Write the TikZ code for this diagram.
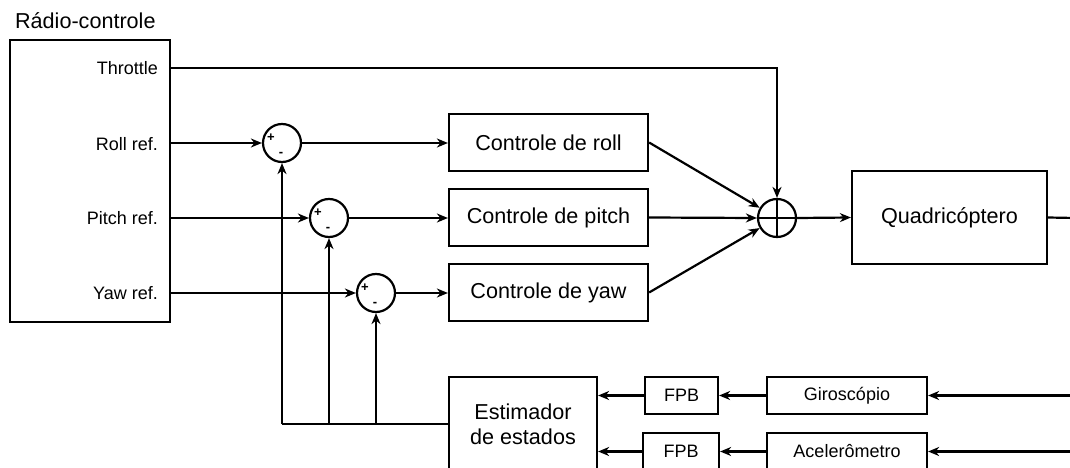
\documentclass[tikz,border=0pt]{standalone}
\usepackage{fontspec}
\setmainfont{Liberation Sans}
\usetikzlibrary{arrows.meta,calc}
\begin{document}
\begin{tikzpicture}[x=1pt,y=-1pt,line width=2.2pt,
  big/.style={font=\fontsize{21.6}{25}\selectfont},
  small/.style={font=\fontsize{18}{21}\selectfont},
  blk/.style={draw,line width=2.2pt,inner sep=0pt,align=center,big},
  sblk/.style={draw,line width=2.2pt,inner sep=0pt,align=center,small},
  sumc/.style={circle,draw,line width=2.2pt,minimum size=38pt,inner sep=0pt},
  pm/.style={font=\fontsize{13}{13}\bfseries\selectfont,inner sep=0pt},
  lbl/.style={small,inner sep=0pt,anchor=base east},
  arr/.style={-{Stealth[length=11pt,width=9pt,inset=3.5pt]}}]
\useasboundingbox (0,0) rectangle (1070,468);
\clip (0,0) rectangle (1070,468);

% Radio
\node[blk,minimum width=160pt,minimum height=282pt] (radio) at (90,181) {};
\node[big,inner sep=0pt,anchor=base west] (rtitle) at (14,29) {Rádio-controle};
\node[lbl] (lthr) at (159,75) {Throttle};
\node[lbl] (lroll) at (159,150) {Roll ref.};
\node[lbl] (lpitch) at (159,224.5) {Pitch ref.};
\node[lbl] (lyaw) at (159,299.5) {Yaw ref.};

% summing junctions
\node[sumc] (s1) at (282,143) {};
\node[sumc] (s2) at (329,218) {};
\node[sumc] (s3) at (376,293) {};
\foreach \s in {s1,s2,s3}{
  \node[pm] (\s p) at ($(\s)+(-11,-5)$) {+};
  \node[pm] (\s m) at ($(\s)+(-1,11)$) {-};
}
\node[sumc] (bs) at (777,218) {};
\draw (bs.north) -- (bs.south);
\draw (bs.west) -- (bs.east);

% controllers
\node[blk,minimum width=199pt,minimum height=57pt] (roll) at (548.5,142.5) {Controle de roll};
\node[blk,minimum width=199pt,minimum height=57pt] (pitch) at (548.5,217.5) {Controle de pitch};
\node[blk,minimum width=199pt,minimum height=57pt] (yaw) at (548.5,292.5) {Controle de yaw};

\node[blk,minimum width=195pt,minimum height=93pt] (quad) at (949.5,217.5) {Quadricóptero};

% estimator chain
\node[blk,minimum width=148pt,minimum height=94pt] (est) at (523,424) {Estimador\\de estados};
\node[sblk,minimum width=73pt,minimum height=37pt] (fpb1) at (681.5,395.5) {FPB};
\node[sblk,minimum width=76pt,minimum height=37pt] (fpb2) at (681,451.5) {FPB};
\node[sblk,minimum width=160pt,minimum height=37pt] (gyro) at (847,395.5) {Giroscópio};
\node[sblk,minimum width=160pt,minimum height=37pt] (acel) at (847,451.5) {Acelerômetro};

\coordinate (qout) at (1075,218);
\coordinate (gin) at (1075,395.5);
\coordinate (ain) at (1075,451.5);
\coordinate (thr) at (170,68);

% connections from radio
\draw[arr] (thr) -- (thr -| bs) -- (bs.north);
\draw[arr] (radio.east |- s1) -- (s1.west);
\draw[arr] (radio.east |- s2) -- (s2.west);
\draw[arr] (radio.east |- s3) -- (s3.west);

\draw[arr] (s1.east) -- (s1.east -| roll.west);
\draw[arr] (s2.east) -- (s2.east -| pitch.west);
\draw[arr] (s3.east) -- (s3.east -| yaw.west);

\draw[arr] (roll.east) -- (bs);
\draw[arr] (pitch.east) -- (bs.west);
\draw[arr] (yaw.east) -- (bs);
\draw[arr] (bs.east) -- (quad.west);
\draw (quad.east) -- (qout);

% feedback
\coordinate (fb1) at (s1 |- est.west);
\coordinate (fb2) at (s2 |- est.west);
\coordinate (fb3) at (s3 |- est.west);
\draw (est.west) -- (fb1);
\draw[arr] (fb1) -- (s1.south);
\draw[arr] (fb2) -- (s2.south);
\draw[arr] (fb3) -- (s3.south);

% sensors
\draw[arr] (gin) -- (gyro.east);
\draw[arr] (ain) -- (acel.east);
\draw[arr] (gyro.west) -- (gyro.west -| fpb1.east);
\draw[arr] (acel.west) -- (acel.west -| fpb2.east);
\draw[arr] (fpb1.west) -- (fpb1.west -| est.east);
\draw[arr] (fpb2.west) -- (fpb2.west -| est.east);
\end{tikzpicture}
\end{document}
